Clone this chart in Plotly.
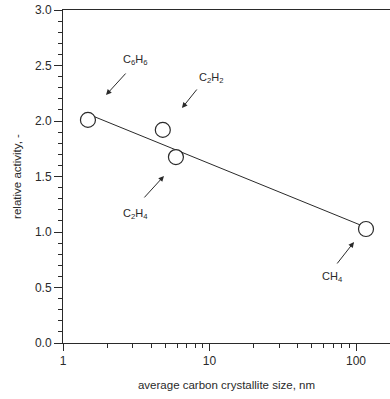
import numpy as np
import plotly.graph_objects as go

# Relative activity vs. average carbon crystallite size
gases = ["C<sub>6</sub>H<sub>6</sub>", "C<sub>2</sub>H<sub>2</sub>",
         "C<sub>2</sub>H<sub>4</sub>", "CH<sub>4</sub>"]
crystallite_nm = [1.48, 4.8, 5.9, 117.0]
relative_activity = [2.01, 1.92, 1.675, 1.027]

# Least-squares fit of activity against log10(size)
lx = np.log10(crystallite_nm)
slope, intercept = np.polyfit(lx, relative_activity, 1)
fit_x = [crystallite_nm[0], crystallite_nm[-1]]
fit_y = [intercept + slope * np.log10(v) for v in fit_x]

INK = "#2a2a2a"
FONT = "Liberation Sans, Arial, Helvetica, sans-serif"

fig = go.Figure()
fig.add_trace(go.Scatter(x=fit_x, y=fit_y, mode="lines",
                         line=dict(color=INK, width=1), hoverinfo="skip"))
fig.add_trace(go.Scatter(x=crystallite_nm, y=relative_activity, mode="markers",
                         marker=dict(size=15, color="white",
                                     line=dict(color=INK, width=1.2))))

# Arrow heads (in axis units) and pixel offsets of arrow tails / labels
arrow_heads = [(1.966, 2.234), (6.49, 2.117), (4.89, 1.505), (96.9, 0.91)]
arrow_tails = [(21, -23), (16, -20), (-21, 23), (-18, 23)]
label_shift = [(29, -35), (29, -30), (-28, 38), (-22, 35)]

annotations = []
for name, (hx, hy), (ax, ay), (sx, sy) in zip(gases, arrow_heads, arrow_tails, label_shift):
    annotations.append(dict(x=np.log10(hx), y=hy, xref="x", yref="y",
                            ax=ax, ay=ay, axref="pixel", ayref="pixel",
                            showarrow=True, arrowhead=2, arrowsize=1.1,
                            arrowwidth=1, arrowcolor=INK, text=""))
    annotations.append(dict(x=np.log10(hx), y=hy, xref="x", yref="y",
                            xshift=sx, yshift=-sy, showarrow=False, text=name,
                            font=dict(family=FONT, size=11, color=INK)))

fig.update_layout(
    width=390, height=399,
    margin=dict(l=63, r=0, t=10, b=56),
    paper_bgcolor="white", plot_bgcolor="white",
    showlegend=False,
    font=dict(family=FONT, size=11, color=INK),
    annotations=annotations,
    xaxis=dict(type="log", range=[0, 2.232],
               tickvals=[1, 10, 100], ticktext=["1", "10", "100"],
               ticks="outside", ticklen=7, tickwidth=1, tickcolor=INK,
               minor=dict(ticks="outside", ticklen=4, tickwidth=1, tickcolor=INK,
                          tickvals=[2, 3, 4, 5, 6, 7, 8, 9, 20, 30, 40, 50, 60, 70, 80, 90,
                                    200]),
               showline=True, linecolor=INK, linewidth=1, mirror=True,
               showgrid=False, zeroline=False,
               tickfont=dict(family=FONT, size=12, color=INK),
               title=dict(text="average carbon crystallite size, nm", standoff=13,
                          font=dict(family=FONT, size=11.5, color=INK))),
    yaxis=dict(range=[0, 3], dtick=0.5, tickformat=".1f",
               ticks="outside", ticklen=8, tickwidth=1, tickcolor=INK,
               minor=dict(ticks="outside", ticklen=4, tickwidth=1, tickcolor=INK,
                          dtick=0.1),
               showline=True, linecolor=INK, linewidth=1, mirror=False,
               showgrid=False, zeroline=False,
               tickfont=dict(family=FONT, size=12, color=INK),
               title=dict(text="relative activity, -", standoff=10,
                          font=dict(family=FONT, size=11.5, color=INK))),
)

fig.write_html("out.html")
